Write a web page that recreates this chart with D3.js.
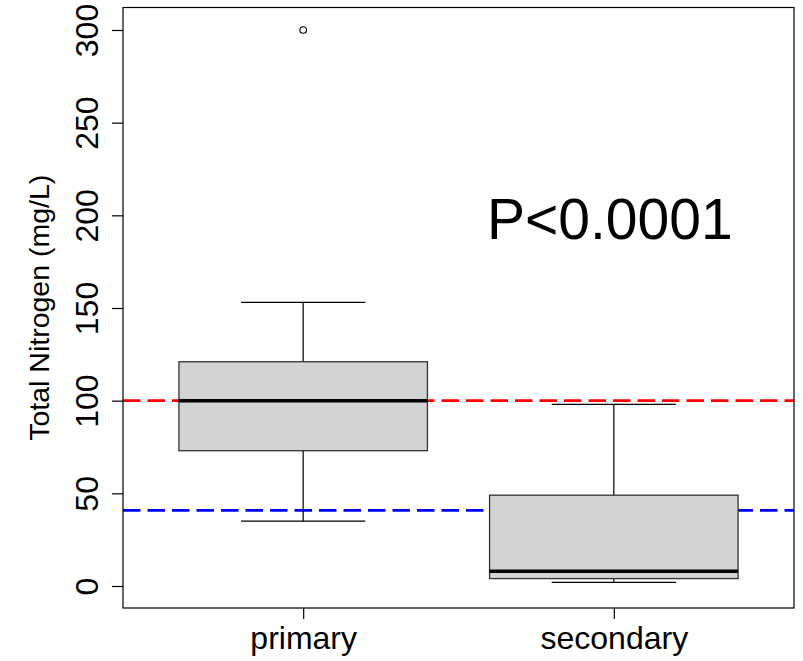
<!DOCTYPE html>
<html>
<head>
<meta charset="utf-8">
<script src="https://cdn.jsdelivr.net/npm/d3@7"></script>
<style>
  html, body { margin: 0; padding: 0; background: #fff; }
  svg { display: block; font-family: "Liberation Sans", Arial, Helvetica, sans-serif; }
</style>
</head>
<body>
<svg id="chart" width="803" height="661"></svg>
<script>
// ---- data ----
const categories   = ["primary", "secondary"];
const whiskerLow   = [35, 2];
const q1           = [73, 4];
const median       = [100, 8];
const q3           = [121, 49];
const whiskerHigh  = [153, 98];
const outliers     = [[300], []];
const yTicks       = [0, 50, 100, 150, 200, 250, 300];
const refLines     = [100, 40.8];
const refColors    = ["#FF0000", "#0000FF"];
const yTitle       = "Total Nitrogen (mg/L)";
const annotation   = "P<0.0001";

// ---- layout ----
const svg = d3.select("#chart");
const plot = { left: 123, right: 794, top: 7.5, bottom: 608 };

const x = d3.scalePoint().domain(categories).range([plot.left, plot.right]).padding(0.58);
const y = d3.scaleLinear().domain([0, 300]).range([586, 30]);
const boxW = x.step() * 0.8;
const capW = boxW * 0.5;

// reference lines (under boxes)
svg.append("g").selectAll("line").data(refLines).join("line")
  .attr("x1", plot.left).attr("x2", plot.right)
  .attr("y1", d => y(d)).attr("y2", d => y(d))
  .attr("stroke", (d, i) => refColors[i])
  .attr("stroke-width", 2.6)
  .attr("stroke-dasharray", "17.5,7");

const data = categories.map((c, i) => ({
  c, lo: whiskerLow[i], q1: q1[i], med: median[i], q3: q3[i], hi: whiskerHigh[i], out: outliers[i]
}));

const g = svg.append("g").selectAll("g").data(data).join("g");

// whiskers
g.append("line").attr("x1", d => x(d.c)).attr("x2", d => x(d.c))
  .attr("y1", d => y(d.q3)).attr("y2", d => y(d.hi))
  .attr("stroke", "#000").attr("stroke-width", 1.2);
g.append("line").attr("x1", d => x(d.c)).attr("x2", d => x(d.c))
  .attr("y1", d => y(d.q1)).attr("y2", d => y(d.lo))
  .attr("stroke", "#000").attr("stroke-width", 1.2);
// caps
g.append("line").attr("x1", d => x(d.c) - capW / 2).attr("x2", d => x(d.c) + capW / 2)
  .attr("y1", d => y(d.hi)).attr("y2", d => y(d.hi))
  .attr("stroke", "#000").attr("stroke-width", 1.2);
g.append("line").attr("x1", d => x(d.c) - capW / 2).attr("x2", d => x(d.c) + capW / 2)
  .attr("y1", d => y(d.lo)).attr("y2", d => y(d.lo))
  .attr("stroke", "#000").attr("stroke-width", 1.2);
// box
g.append("rect")
  .attr("x", d => x(d.c) - boxW / 2).attr("width", boxW)
  .attr("y", d => y(d.q3)).attr("height", d => y(d.q1) - y(d.q3))
  .attr("fill", "#D3D3D3").attr("stroke", "#333").attr("stroke-width", 1.3);
// median
g.append("line").attr("x1", d => x(d.c) - boxW / 2).attr("x2", d => x(d.c) + boxW / 2)
  .attr("y1", d => y(d.med)).attr("y2", d => y(d.med))
  .attr("stroke", "#000").attr("stroke-width", 3.5);
// outliers
g.selectAll("circle").data(d => d.out.map(v => ({ c: d.c, v }))).join("circle")
  .attr("cx", d => x(d.c)).attr("cy", d => y(d.v)).attr("r", 3.3)
  .attr("fill", "none").attr("stroke", "#000").attr("stroke-width", 1.1);

// frame
svg.append("rect")
  .attr("x", plot.left).attr("y", plot.top)
  .attr("width", plot.right - plot.left).attr("height", plot.bottom - plot.top)
  .attr("fill", "none").attr("stroke", "#000").attr("stroke-width", 1.2);

// y axis
const yAxis = svg.append("g").attr("transform", `translate(${plot.left},0)`)
  .call(d3.axisLeft(y).tickValues(yTicks).tickSize(11).tickFormat(d3.format("d")));
yAxis.select(".domain").remove();
yAxis.selectAll(".tick line").attr("stroke", "#000").attr("stroke-width", 1.2);
yAxis.selectAll(".tick text")
  .attr("x", null).attr("dy", null)
  .attr("transform", "translate(-25,0) rotate(-90)")
  .attr("text-anchor", "middle")
  .attr("font-size", 32).attr("font-family", null).attr("fill", "#000");

// x axis
const xAxis = svg.append("g").attr("transform", `translate(0,${plot.bottom})`)
  .call(d3.axisBottom(x).tickSize(11));
xAxis.select(".domain").remove();
xAxis.selectAll(".tick line").attr("stroke", "#000").attr("stroke-width", 1.2);
xAxis.selectAll(".tick text")
  .attr("y", 41).attr("dy", null)
  .attr("font-size", 32).attr("font-family", null).attr("fill", "#000");

// y title
svg.append("text")
  .attr("transform", `translate(49,${(plot.top + plot.bottom) / 2}) rotate(-90)`)
  .attr("text-anchor", "middle").attr("font-size", 28.5).attr("fill", "#000")
  .text(yTitle);

// annotation
svg.append("text")
  .attr("x", x("secondary") - 4).attr("y", 239)
  .attr("text-anchor", "middle").attr("font-size", 57).attr("fill", "#000")
  .text(annotation);
</script>
</body>
</html>
